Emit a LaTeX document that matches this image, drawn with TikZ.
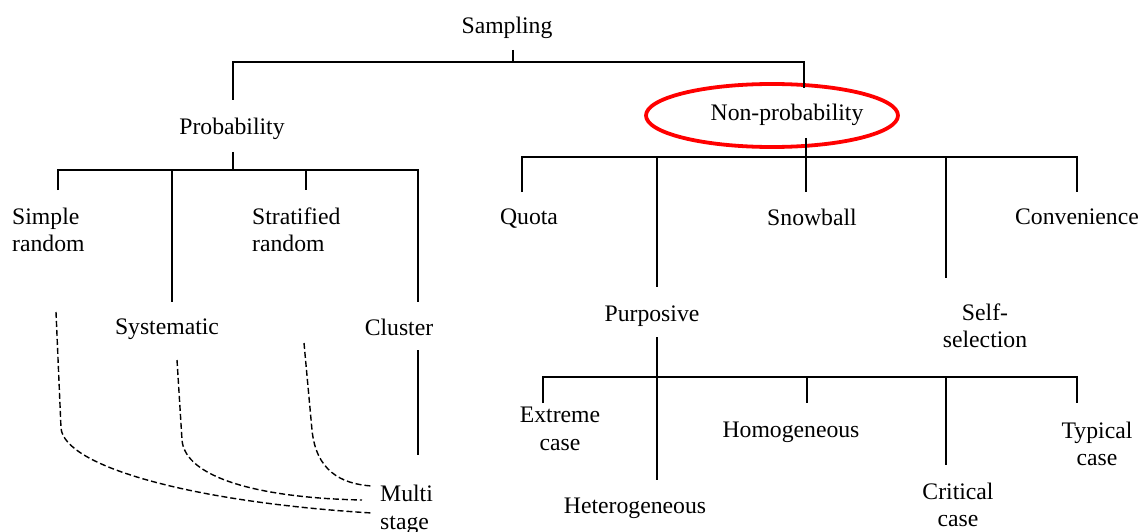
\documentclass[tikz,border=0pt]{standalone}
\usepackage{fontspec}
\setmainfont{Liberation Serif}
\usetikzlibrary{shapes.geometric}
\begin{document}
\begin{tikzpicture}[x=1pt,y=-1pt,
  lbl/.style={inner sep=0pt, font=\rmfamily\fontsize{23.7}{27.5}\selectfont},
  tree/.style={line width=1.6pt},
  link/.style={line width=1.4pt, dash pattern=on 6pt off 3pt},
  ring/.style={draw=red, line width=3.8pt, ellipse, inner sep=0pt,
    minimum width=252pt, minimum height=63pt}]
\useasboundingbox (0,0) rectangle (1143,532);

% ---------- labels ----------
\node[lbl] (samp) at (507,28) {Sampling};
\node[lbl] (prob) at (232,129) {Probability};
\node[lbl] (nonp) at (787,115) {Non-probability};
\node[ring] (ring) at (772,115.5) {};

\node[lbl, align=left, anchor=west] (srand) at (12,230) {Simple\\random};
\node[lbl, align=left, anchor=west] (strat) at (252,230) {Stratified\\random};
\node[lbl] (syst) at (167,329) {Systematic};
\node[lbl] (clus) at (399,327) {Cluster};
\node[lbl, align=left, anchor=west] (multi) at (380,510) {Multi\\stage};

\node[lbl] (quota) at (529,219) {Quota};
\node[lbl] (snow) at (812,217) {Snowball};
\node[lbl] (conv) at (1077,217) {Convenience};
\node[lbl] (purp) at (652,316) {Purposive};
\node[lbl, align=center] (self) at (985,326) {Self-\\selection};

\node[lbl, align=center] (extr) at (560,429) {Extreme\\case};
\node[lbl] (hetero) at (635,508) {Heterogeneous};
\node[lbl] (homo) at (791,432) {Homogeneous};
\node[lbl, align=center] (crit) at (958,505) {Critical\\case};
\node[lbl, align=center] (typ) at (1097,444) {Typical\\case};

% ---------- connector end points ----------
\coordinate (samp-out) at (513,50);
\coordinate (samp-bus) at (513,62);
\coordinate (prob-in)  at (233,100);
\coordinate (nonp-in)  at (804,88);

\coordinate (prob-out) at (233,152);
\coordinate (prob-bus) at (233,170);
\coordinate (srand-in) at (58,190);
\coordinate (syst-in)  at (172,302);
\coordinate (syst-bus) at (172,170);
\coordinate (strat-in) at (306,190);
\coordinate (strat-bus) at (306,170);
\coordinate (clus-in)  at (418,302);
\coordinate (clus-out) at (418,350);
\coordinate (multi-in) at (418,455);

\coordinate (nonp-out) at (806,138);
\coordinate (nonp-bus) at (806,157);
\coordinate (quota-in) at (522,192);
\coordinate (purp-in)  at (657,287);
\coordinate (purp-bus) at (657,157);
\coordinate (snow-in)  at (806,192);
\coordinate (self-in)  at (946,278);
\coordinate (self-bus) at (946,157);
\coordinate (conv-in)  at (1077,192);

\coordinate (purp-out) at (657,337);
\coordinate (purp-mid) at (657,377);
\coordinate (hetero-in) at (657,480);
\coordinate (extr-in)  at (543,403);
\coordinate (homo-in)  at (807,403);
\coordinate (homo-bus) at (807,377);
\coordinate (crit-in)  at (946,465);
\coordinate (crit-bus) at (946,377);
\coordinate (typ-in)   at (1077,403);

% ---------- tree lines ----------
\draw[tree] (samp-out) -- (samp-bus);
\draw[tree] (prob-in) |- (samp-bus) -| (nonp-in);

\draw[tree] (prob-out) -- (prob-bus);
\draw[tree] (srand-in) |- (prob-bus) -| (clus-in);
\draw[tree] (syst-bus) -- (syst-in);
\draw[tree] (strat-bus) -- (strat-in);
\draw[tree] (clus-out) -- (multi-in);

\draw[tree] (nonp-out) -- (nonp-bus);
\draw[tree] (quota-in) |- (nonp-bus) -| (conv-in);
\draw[tree] (purp-bus) -- (purp-in);
\draw[tree] (nonp-bus) -- (snow-in);
\draw[tree] (self-bus) -- (self-in);

\draw[tree] (purp-out) -- (hetero-in);
\draw[tree] (extr-in) |- (purp-mid) -| (typ-in);
\draw[tree] (homo-bus) -- (homo-in);
\draw[tree] (crit-bus) -- (crit-in);

% ---------- dashed links into multi stage ----------
\coordinate (srand-out) at (56,312);
\coordinate (syst-out)  at (177,360);
\coordinate (strat-out) at (304,343);
\coordinate (ms-a) at (372,513);
\coordinate (ms-b) at (362,500);
\coordinate (ms-c) at (372,486);

\draw[link] (srand-out) -- (61,428) .. controls (64,466) and (190,502) .. (ms-a);
\draw[link] (syst-out) -- (182,440) .. controls (185,478) and (260,498) .. (ms-b);
\draw[link] (strat-out) -- (312,430) .. controls (316,470) and (340,484) .. (ms-c);
\end{tikzpicture}
\end{document}
